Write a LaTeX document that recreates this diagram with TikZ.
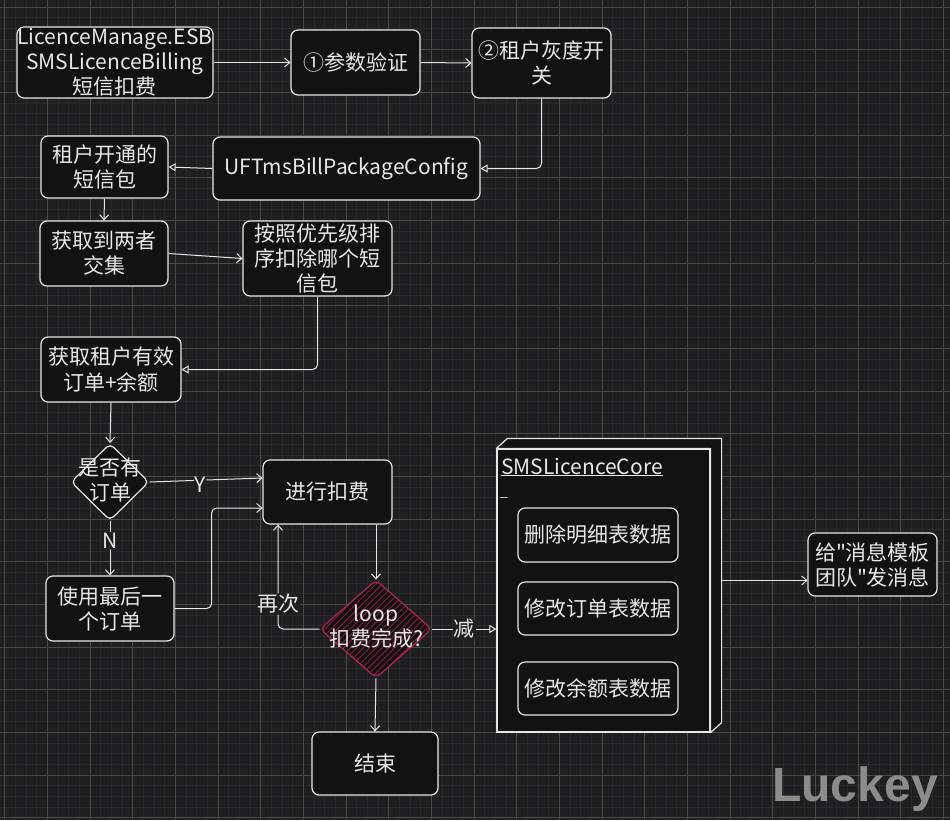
\documentclass[tikz,border=0pt]{standalone}
\usepackage{fontspec}
\setmainfont{Noto Sans CJK SC}
\newfontfamily\wmfont{Liberation Sans}
\usetikzlibrary{shapes.geometric,arrows.meta,patterns.meta,calc}
\definecolor{bg}{HTML}{1F1E23}
\definecolor{boxfill}{HTML}{121114}
\definecolor{fg}{HTML}{E8E8E8}
\definecolor{gridminor}{HTML}{2A292F}
\definecolor{gridmajor}{HTML}{4A4943}
\definecolor{loopc}{HTML}{B0225A}
\definecolor{hatch}{HTML}{8A1A45}
\definecolor{wmc}{HTML}{8C8C8C}
\begin{document}
\begin{tikzpicture}[x=1pt,y=-1pt,
  txt/.style={text=fg, font=\fontsize{21}{25}\selectfont, align=center},
  box/.style={draw=fg, fill=boxfill, line width=1.2pt, rounded corners=7pt, inner sep=0pt, txt},
  arr/.style={draw=fg, line width=1pt, rounded corners=5pt, -{Straight Barb[length=5pt,width=9pt]}},
  arrt/.style={draw=fg, line width=1pt, rounded corners=5pt, -{Triangle[open,length=7pt,width=8pt]}},
  lab/.style={txt, fill=bg, inner sep=1pt},
  gmin/.style={draw=gridminor, line width=0.5pt},
  gmaj/.style={draw=gridmajor, line width=0.7pt}]
\useasboundingbox (0,0) rectangle (950,820);
\fill[bg] (0,0) rectangle (950,820);
% grid
\foreach \i in {0,...,89} {\draw[gmin] ({-5.97+\i*10.6667},0) -- ({-5.97+\i*10.6667},820);}
\foreach \i in {0,...,78} {\draw[gmin] (0,{-3.67+\i*10.6667}) -- (950,{-3.67+\i*10.6667});}
\foreach \i in {0,...,22} {\draw[gmaj] ({4.7+\i*42.667},0) -- ({4.7+\i*42.667},820);}
\foreach \i in {0,...,19} {\draw[gmaj] (0,{7+\i*42.667}) -- (950,{7+\i*42.667});}

% nodes
\node[box, minimum width=196pt, minimum height=71pt] (A) at (115,62.5) {LicenceManage.ESB\\SMSLicenceBilling\\短信扣费};
\node[box, minimum width=129pt, minimum height=65pt] (B) at (355.5,62.5) {①参数验证};
\node[box, minimum width=139pt, minimum height=70pt] (C) at (541.5,63) {②租户灰度开\\关};
\node[box, minimum width=267pt, minimum height=63pt] (U) at (346.5,168.5) {UFTmsBillPackageConfig};
\node[box, minimum width=127pt, minimum height=62pt] (D) at (104.5,167) {租户开通的\\短信包};
\node[box, minimum width=128pt, minimum height=65pt] (E) at (104,253.5) {获取到两者\\交集};
\node[box, minimum width=149pt, minimum height=75pt] (F) at (317.5,258.5) {按照优先级排\\序扣除哪个短\\信包};
\node[box, minimum width=140pt, minimum height=65pt] (G) at (111,369.5) {获取租户有效\\订单+余额};
\node[diamond, draw=fg, fill=boxfill, line width=1.2pt, rounded corners=5pt, minimum width=78pt, minimum height=77pt, inner sep=0pt] (H) at (110,482) {};
\node[txt] (Ht) at (110,480) {是否有\\订单};
\node[box, minimum width=129pt, minimum height=64pt] (I) at (327.5,492) {进行扣费};
\node[box, minimum width=128pt, minimum height=65pt] (J) at (110,608.5) {使用最后一\\个订单};
\node[diamond, draw=loopc, line width=1.2pt, rounded corners=6pt, minimum width=112pt, minimum height=98pt, inner sep=0pt,
  preaction={fill=boxfill}, pattern={Lines[angle=45,distance=4.5pt,line width=0.9pt]}, pattern color=hatch] (K) at (376,629) {};
\node[txt] (Kt) at (376,627) {loop\\扣费完成?};
\node[box, minimum width=126pt, minimum height=63pt] (L) at (375,763.5) {结束};

% 3D core box
\node[draw=fg, fill=boxfill, line width=1.2pt, minimum width=213pt, minimum height=283pt, inner sep=0pt] (core) at (603.5,590.5) {};
\draw[fg, fill=boxfill, line width=1.2pt, line join=round] (core.north west) -- ([shift={(11pt,10pt)}]core.north west) -- ([shift={(11pt,10pt)}]core.north east) -- ([shift={(11pt,10pt)}]core.south east) -- (core.south east) -- (core.north east) -- cycle;
\node[txt, anchor=west, inner sep=0pt] (coretitle) at (501,467) {\underline{SMSLicenceCore}};
\node[text=fg, font=\fontsize{14}{14}\selectfont, anchor=west, inner sep=0pt] (coredash) at (500,497) {\_};
\node[box, minimum width=160pt, minimum height=54pt] (M1) at (598,535) {删除明细表数据};
\node[box, minimum width=160pt, minimum height=53pt] (M2) at (598,608.5) {修改订单表数据};
\node[box, minimum width=160pt, minimum height=53pt] (M3) at (598,688.5) {修改余额表数据};
\node[box, minimum width=129pt, minimum height=63pt] (N) at (872.5,564.5) {给\textquotedbl 消息模板\\团队\textquotedbl 发消息};

\node[font=\wmfont\bfseries\fontsize{48}{50}\selectfont, text=wmc] (wm) at (855,789) {Luckey};

% connectors
\draw[arr] (A.east) -- (B.west);
\draw[arr] (B.east) -- (C.west);
\draw[arrt] (C.south) |- (U.east);
\draw[arrt] (U.west) -- (D.east);
\draw[arr] (D.south) -- (E.north);
\draw[arr] (E.east) -- (F.west);
\draw[arrt] (F.south) |- (G.east);
\draw[arr] (G.south) -- (H.north);
\draw[arr] (H.east) -- node[lab, pos=0.45, yshift=-5pt] (ylab) {Y} ([yshift=14pt]I.west);
\draw[arr] (H.south) -- node[lab, pos=0.36] (nlab) {N} (J.north);
\draw[arr] (J.east) -- ++(37,0) |- ([yshift=-16pt]I.west);
\draw[arr] (K.north |- I.south) -- (K.north);
\coordinate (Ib) at ([xshift=-49.5pt]I.south);
\draw[arr] (K.west) -| node[lab, pos=0.62] (zlab) {再次} (Ib);
\draw[arrt] (K.east) -- node[lab, pos=0.5] (jlab) {减} (K.east -| core.west);
\draw[arr] (K.south) -- (L.north);
\coordinate (coreback) at ([shift={(11pt,10pt)}]core.east);
\draw[arr] (coreback) -- (N.west |- coreback);
\end{tikzpicture}
\end{document}
